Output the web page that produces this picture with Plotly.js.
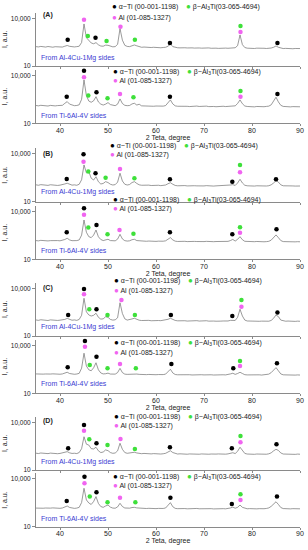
<!DOCTYPE html>
<html><head><meta charset="utf-8">
<script src="https://cdn.plot.ly/plotly-3.0.1.min.js"></script>
<style>html,body{margin:0;padding:0;background:#fff}#chart{width:308px;height:550px}</style>
</head><body><div id="chart"></div>
<script>
// 2θ sampling grid (degrees)
const twoTheta = [35,35.5,36,36.5,37,37.5,38,38.5,39,39.5,40,40.5,41,41.5,42,42.5,43,43.5,44,44.5,45,45.5,46,46.5,47,47.5,48,48.5,49,49.5,50,50.5,51,51.5,52,52.5,53,53.5,54,54.5,55,55.5,56,56.5,57,57.5,58,58.5,59,59.5,60,60.5,61,61.5,62,62.5,63,63.5,64,64.5,65,65.5,66,66.5,67,67.5,68,68.5,69,69.5,70,70.5,71,71.5,72,72.5,73,73.5,74,74.5,75,75.5,76,76.5,77,77.5,78,78.5,79,79.5,80,80.5,81,81.5,82,82.5,83,83.5,84,84.5,85,85.5,86,86.5,87,87.5,88,88.5,89,89.5,90];

// Intensities (a.u.)
const iA_Al = [165,158,170,162,155,168,160,152,163,158, 160,155,175,195,172,160,158,165,175,300, 4400,600,390,280,250,295,215,180,175,205, 200,170,160,165,230,2240,420,200,170,165, 185,210,185,160,150,155,148,152,145,150, 142,148,140,146,150,175,240,165,145,140, 138,145,140,136,142,138,134,140,136,132, 138,133,137,130,135,132,128,134,130,133, 130,135,132,140,190,890,220,145,132,128, 130,126,132,127,124,130,126,128,135,150, 182,150,130,125,128,124,127,122,126,123,125];
const iA_Ti = [132,125,135,128,130,122,133,127,124,130, 126,135,180,230,160,135,128,132,145,320, 5300,550,250,210,260,470,220,160,140,160, 200,150,132,128,160,340,175,135,128,132, 165,182,140,158,125,122,126,120,124,118, 122,118,125,120,130,190,295,165,125,118, 120,115,122,117,113,119,116,121,114,118, 115,120,112,117,114,110,116,112,118,113, 115,120,118,125,175,295,170,122,114,110, 112,108,114,109,113,110,115,120,145,230, 435,220,135,115,110,113,108,112,107,111,109];
const iB_Al = [115,108,118,110,113,106,116,109,112,105, 110,115,130,145,120,110,114,108,125,240, 2040,650,780,300,230,370,180,130,140,182, 160,125,112,118,170,615,200,125,112,120, 160,182,140,115,108,112,105,110,104,108, 103,108,102,106,112,135,156,125,105,100, 104,99,103,98,102,97,101,99,96,100, 98,102,97,100,96,99,101,97,100,98, 102,112,118,105,150,257,150,108,100,97, 99,96,100,97,95,99,97,101,115,150, 210,170,115,100,97,99,95,98,96,99,97];
const iB_Ti = [150,144,155,147,152,143,149,154,146,150, 145,152,175,210,165,148,144,150,165,330, 2950,500,265,230,330,690,260,175,150,165, 182,150,142,145,185,370,190,148,140,145, 170,182,150,145,138,142,136,140,135,139, 134,138,133,137,145,180,230,165,138,132, 136,131,135,130,134,129,133,131,128,132, 130,134,129,132,128,131,133,129,132,130, 134,150,178,140,180,265,170,135,130,127, 131,128,132,127,130,126,129,135,160,240, 340,230,150,130,127,131,126,129,125,128,126];
const iC_Al = [102,96,105,98,101,94,103,97,100,95, 99,104,110,128,108,98,102,96,110,200, 2350,330,210,180,200,270,150,115,120,162, 150,110,100,104,140,1230,260,120,100,105, 118,130,112,98,94,97,92,96,91,95, 90,94,92,96,98,112,130,110,95,90, 93,88,91,87,90,86,89,92,87,90, 88,91,86,89,87,85,90,86,88,85, 88,96,100,95,150,480,180,100,88,86, 88,85,87,84,86,83,87,85,95,130, 210,165,100,88,85,87,84,86,83,86,84];
const iC_Ti = [165,158,168,160,164,156,162,167,159,163, 158,165,185,210,175,160,157,163,180,380, 3300,520,300,260,400,830,300,190,165,170, 185,162,155,160,200,370,200,160,155,158, 170,175,162,155,150,154,149,153,148,152, 147,151,146,150,160,220,325,190,152,146, 149,144,148,143,147,142,146,150,144,147, 143,147,142,146,141,145,148,142,146,143, 147,165,182,155,175,210,175,148,143,146, 142,146,141,145,140,144,147,160,200,300, 410,260,165,145,141,145,140,144,139,143,140];
const iD_Al = [114,108,117,110,113,107,115,109,112,106, 110,116,125,142,120,110,113,108,125,220, 1230,420,370,220,210,270,160,125,135,182, 165,125,112,117,160,480,200,125,112,116, 120,130,118,110,106,110,104,108,103,107, 102,106,101,105,112,135,162,125,106,101, 104,99,103,98,102,100,97,101,98,102, 99,103,98,101,97,100,102,98,101,99, 103,115,122,108,150,270,160,110,101,98, 100,97,101,98,96,100,98,104,120,160, 200,170,118,101,98,100,97,99,96,100,98];
const iD_Ti = [148,142,151,145,149,141,147,152,144,148, 143,150,170,200,162,146,142,148,165,330, 2600,480,310,250,380,780,290,185,165,200, 230,170,148,145,175,295,185,150,142,146, 160,165,152,145,140,144,139,143,138,142, 137,141,136,140,150,210,325,180,142,136, 139,134,138,133,137,132,136,140,134,137, 133,137,132,136,131,135,138,132,136,133, 137,150,170,145,165,230,165,140,134,137, 133,137,132,136,131,135,140,152,190,280, 370,250,160,138,133,137,132,136,131,135,133];

// Phase marker positions per panel (A-Al, A-Ti, B-Al, B-Ti, C-Al, C-Ti, D-Al, D-Ti)
const alphaTiX = [[41.6,45.0,47.4,62.9,85.3],[41.4,45.0,47.6,62.9,85.3],[41.4,44.9,47.4,62.9,75.9,85.0],[41.4,45.0,47.6,62.9,75.9,85.1],[41.7,45.0,47.6,63.1,75.9,85.3],[41.6,45.2,47.6,63.2,76.1,85.2],[41.7,45.0,47.6,62.9,75.8,85.1],[41.4,45.1,47.6,63.0,75.8,85.2]];
const alphaTiY = [[440,24000,600,280,280],[470,20400,890,470,690],[270,9600,615,257,182,257],[500,16000,1440,500,370,780],[210,9100,480,210,182,295],[435,19500,2000,690,370,780],[230,6800,480,270,230,415],[415,13800,1440,660,270,780]];
const betaAl3TiX = [[45.8,49.7,55.6,77.6],[45.9,49.9,55.3,77.6],[45.9,49.5,55.5,77.5],[45.9,49.9,55.3,77.5],[46.1,49.9,55.6,77.8],[46.2,49.9,55.8,77.5],[46.1,49.9,55.6,77.6],[46.2,49.9,55.7,77.6]];
const betaAl3TiY = [[775,370,440,3300],[550,370,435,1070],[780,325,295,2040],[980,370,410,1020],[480,210,210,1820],[600,370,370,1070],[850,370,210,1380],[780,340,340,1100]];
const alX = [[45.0,52.6,77.6],[45.0,52.5,77.6],[44.9,52.5,77.5],[45.0,52.4,77.5],[45.0,52.8,77.8],[45.2,52.5,77.5],[45.0,52.6,77.6],[45.1,52.5,77.6]];
const alY = [[8100,2950,1380],[7700,690,470],[3300,1150,710],[6200,690,470],[4150,1820,690],[8500,690,520],[2950,890,550],[5400,660,480]];

const phaseNames = ['α−Ti (00-001-1198)','β−Al<sub>3</sub>Ti(03-065-4694)','Al (01-085-1327)'];
const panelLetters = ['(A)','(B)','(C)','(D)'];
const sideLabels = ['From Al-4Cu-1Mg sides','From Ti-6Al-4V sides'];
const xTickVals = [40,50,60,70,80,90];
const yTickVals = [10,10000];
const yTickText = ['10','10,000'];
const xTitle = '2 Teta, degree';
const yTitle = 'I, a.u.';

const intensities = [iA_Al,iA_Ti,iB_Al,iB_Ti,iC_Al,iC_Ti,iD_Al,iD_Ti];
const phaseColors = ['#000000','#3ee03a','#f064f0'];

// geometry (pixels)
const W=308,H=550,ML=36,MR=8,PW=W-ML-MR,PH=53.3;
const bottoms=[66,123.3,201.7,259.3,336,393.3,470,526.7];
const letterY=[15,154,288,421];
const sideY=[58.3,115.7,191.7,251,327.3,383.3,461.7,518.3];
const legRowY=[[6.7,17.3],[71,81],[145.7,155],[199.3,208.3],[280.7,290],[342.5,352.7],[416,425],[476,485.7]];
const legX=[113,113.3,111,114,115,115,115,113.3];
const px2x=p=>(p-ML)/PW, py2y=p=>1-p/H;
const FONT='"Liberation Sans", Arial, sans-serif';

const traces=[];
const layout={width:W,height:H,margin:{l:ML,r:MR,t:0,b:0},paper_bgcolor:'#fff',plot_bgcolor:'rgba(0,0,0,0)',showlegend:false,font:{family:FONT,size:7,color:'#222'},annotations:[]};

for(let i=0;i<8;i++){
  const s=i===0?'':String(i+1);
  const isBottom = i%2===1;
  traces.push({x:twoTheta,y:intensities[i],xaxis:'x'+s,yaxis:'y'+s,type:'scatter',mode:'lines',line:{color:'#707070',width:0.7},hoverinfo:'skip'});
  const pX=[alphaTiX[i],betaAl3TiX[i],alX[i]], pY=[alphaTiY[i],betaAl3TiY[i],alY[i]];
  for(let k=0;k<3;k++){
    traces.push({x:pX[k],y:pY[k],xaxis:'x'+s,yaxis:'y'+s,type:'scatter',mode:'markers',marker:{color:phaseColors[k],size:4.5},cliponaxis:false,hoverinfo:'skip'});
  }
  const b=bottoms[i];
  const xa={domain:[0,1],anchor:'y'+s,range:[35,90],showline:true,linecolor:'#8a8a8a',linewidth:1,ticks:'outside',ticklen:2,tickcolor:'#8a8a8a',tickvals:xTickVals,showticklabels:isBottom,tickfont:{size:7,color:'#222'},ticklabelstandoff:-2,showgrid:false,zeroline:false,fixedrange:true};
  if(isBottom) xa.title={text:xTitle,font:{size:7,color:'#222'},standoff:0};
  layout['xaxis'+s]=xa;
  layout['yaxis'+s]={domain:[py2y(b),py2y(b-PH)],anchor:'x'+s,type:'log',range:[1,4.35],showline:true,linecolor:'#8a8a8a',linewidth:1,ticks:'outside',ticklen:3,tickcolor:'#8a8a8a',tickmode:'array',tickvals:yTickVals,ticktext:yTickText,tickfont:{size:6.5,color:'#222'},showgrid:false,zeroline:false,fixedrange:true,
    title:{text:yTitle,font:{size:7,color:'#222'},standoff:2}};
  layout.annotations.push({xref:'paper',yref:'paper',x:px2x(39),y:py2y(sideY[i]),xanchor:'left',yanchor:'middle',showarrow:false,text:sideLabels[i%2],font:{size:7,color:'#3c3cd2'}});
  const lx=legX[i];
  layout.annotations.push({xref:'paper',yref:'paper',x:px2x(lx-2.8),y:py2y(legRowY[i][0]),xanchor:'left',yanchor:'middle',showarrow:false,text:'<span style="color:'+phaseColors[0]+';font-size:8px">●</span> '+phaseNames[0],font:{size:7,color:'#222'}});
  layout.annotations.push({xref:'paper',yref:'paper',x:px2x(lx+74-2.8),y:py2y(legRowY[i][0]),xanchor:'left',yanchor:'middle',showarrow:false,text:'<span style="color:'+phaseColors[1]+';font-size:8px">●</span> '+phaseNames[1],font:{size:7,color:'#222'}});
  layout.annotations.push({xref:'paper',yref:'paper',x:px2x(lx-2.8),y:py2y(legRowY[i][1]),xanchor:'left',yanchor:'middle',showarrow:false,text:'<span style="color:'+phaseColors[2]+';font-size:8px">●</span> '+phaseNames[2],font:{size:7,color:'#222'}});
}
for(let g=0;g<4;g++){
  layout.annotations.push({xref:'paper',yref:'paper',x:px2x(41),y:py2y(letterY[g]),xanchor:'left',yanchor:'middle',showarrow:false,text:'<b>'+panelLetters[g]+'</b>',font:{size:7,color:'#222'}});
}
Plotly.newPlot('chart',traces,layout,{staticPlot:true,displayModeBar:false});
</script></body></html>
